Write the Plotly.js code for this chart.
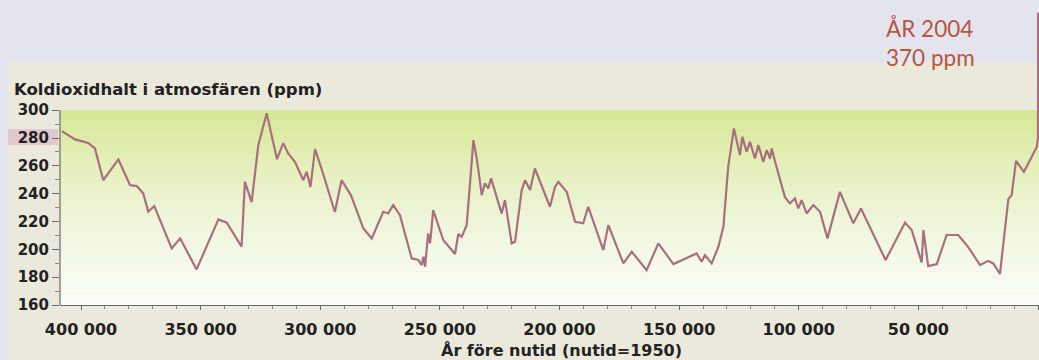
<!DOCTYPE html>
<html><head><meta charset="utf-8">
<script src="https://cdn.plot.ly/plotly-3.0.1.min.js"></script>
<style>html,body{margin:0;padding:0;background:#e4e4ee;overflow:hidden}</style>
</head><body><div id="chart" style="width:1039px;height:360px"></div>
<script>
// Years before present (present = 1950) and CO2 concentration (ppm)
const years = [408000,402500,397000,394200,390700,384400,379500,376700,374000,371900,369400,362100,358600,351700,342600,339100,332900,331500,328700,325900,322400,318100,315500,313400,310600,307100,305700,304100,302200,299700,293900,291100,287200,282000,278500,273700,271600,269500,266700,261800,259000,257600,256900,256200,254900,254100,252800,248600,243700,242300,240900,238800,236000,234600,232500,231200,229800,228600,226300,224200,222800,220000,218600,215800,214400,212300,210300,204000,201900,200500,197000,193500,190100,188000,181700,179600,173300,169800,163600,158700,152400,142700,140600,139200,136400,133600,131500,129500,127100,124600,123600,121800,120400,118300,116900,114800,113400,112000,111300,109900,105800,103700,101600,100200,98800,96700,93900,91100,88000,82800,77200,74000,63700,55600,52800,48600,47900,45900,42300,38200,33300,29300,24200,20800,18700,15900,12400,11000,9200,5900,500,0,-54];
const co2 = [285,279,276.5,272.5,249.7,264.6,246.1,245.5,240.2,227,231.1,200.7,207.9,185.6,221.5,219.1,201.9,248.5,233.9,274.9,297.8,264.8,276.3,268.9,262.9,249.7,255.7,244.9,272.1,259.1,226.8,249.7,239,215.1,207.9,227,225.8,231.8,224.6,193.5,192.3,188.7,194.7,187.5,211.5,204.3,228.2,206.7,196.6,211,209,217.4,278.5,265.3,239,247.4,243.8,251,237.7,225.8,235.4,204.3,205.4,242.6,249.7,242.6,258.1,230.6,244.9,248.5,241.3,219.8,218.7,230.6,199.5,217.4,189.9,198.3,185.1,204.3,189.4,197.1,191.1,195.9,189.9,201.9,216.2,259.3,286.9,267.7,280.8,270.1,277.2,265.3,274.9,262.9,271.3,265.3,272.5,262.9,237.7,233,236.6,229.4,235.4,225.8,231.8,227,207.9,241.3,218.7,229.4,192.3,219.2,213.8,190.5,213.8,188,189.4,210.3,210.3,201.9,188.7,191.7,189.9,182.3,236.1,239,263.5,255.7,273.6,280,370];

const xTickVals = [400000,350000,300000,250000,200000,150000,100000,50000,0];
const xTickText = ['400 000','350 000','300 000','250 000','200 000','150 000','100 000','50 000','0'];
const yTickVals = [160,180,200,220,240,260,280,300];
const yMinorVals = [170,190,210,230,250,270,290];
const titleText = 'Koldioxidhalt i atmosfären (ppm)';
const xTitleText = 'År före nutid (nutid=1950)';
const noteLines = ['ÅR 2004','370 ppm'];

// background gradient bands for the plot panel
const stops = [[160,[251,252,246]],[190,[245,249,234]],[230,[236,244,212]],[270,[226,238,176]],[300,[213,231,148]]];
function colAt(v){
  for(let i=0;i<stops.length-1;i++){
    const a=stops[i], b=stops[i+1];
    if(v>=a[0] && v<=b[0]){
      const t=(v-a[0])/(b[0]-a[0]);
      const c=a[1].map((ch,k)=>Math.round(ch+(b[1][k]-ch)*t));
      return 'rgb('+c.join(',')+')';
    }
  }
  return 'rgb(250,251,244)';
}
const shapes = [];
// beige image background
shapes.push({type:'rect',xref:'paper',yref:'paper',x0:-0.0531,x1:1.01,y0:-0.2,y1:0.8237,fillcolor:'#ebe9dc',line:{width:0},layer:'below'});
const step = 4;
for(let v=160; v<300; v+=step){
  shapes.push({type:'rect',xref:'paper',yref:'y',x0:0,x1:1,y0:v,y1:v+step,fillcolor:colAt(v+step/2),line:{width:0},layer:'below'});
}
// pink highlight behind 280
shapes.push({type:'rect',xref:'paper',yref:'y',x0:-0.053,x1:-0.002,y0:275,y1:286.5,fillcolor:'rgba(212,160,190,0.45)',line:{width:0},layer:'below'});
// y axis line (only over the 160-300 panel)
shapes.push({type:'line',xref:'paper',yref:'y',x0:0,x1:0,y0:160,y1:300,line:{color:'#6a6a6a',width:1.2}});

const trace = {x:years,y:co2,type:'scatter',mode:'lines',line:{color:'#a8707e',width:2.2},hoverinfo:'skip'};

const bold = {family:'DejaVu Sans',weight:'bold',color:'#222'};
const layout = {
  width:1039,height:360,
  margin:{l:60,r:0,t:10,b:55,pad:0},
  paper_bgcolor:'#e4e4ee',plot_bgcolor:'rgba(0,0,0,0)',
  showlegend:false,
  xaxis:{range:[408800,-420],autorange:false,tickmode:'array',tickvals:xTickVals,ticktext:xTickText,
    showgrid:false,zeroline:false,showline:true,linecolor:'#6a6a6a',linewidth:1.2,
    ticks:'outside',ticklen:4,tickcolor:'#6a6a6a',ticklabelstandoff:6,
    minor:{dtick:10000,tick0:0,ticks:'outside',ticklen:3,tickcolor:'#888',showgrid:false},
    tickfont:Object.assign({size:16},bold)},
  yaxis:{range:[160,372],autorange:false,tickmode:'array',tickvals:yTickVals,
    showgrid:false,zeroline:false,showline:false,
    ticks:'outside',ticklen:7,tickcolor:'#6a6a6a',
    minor:{tickmode:'array',tickvals:yMinorVals,ticks:'outside',ticklen:4,tickcolor:'#888',showgrid:false},
    tickfont:Object.assign({size:15},bold)},
  shapes:shapes,
  annotations:[
    {xref:'paper',yref:'paper',x:-0.049,y:1-(90-10)/295,xanchor:'left',yanchor:'middle',showarrow:false,
      text:titleText,font:Object.assign({size:16.5},bold)},
    {xref:'paper',yref:'paper',x:(561-60)/979,y:-(350-305)/295,xanchor:'center',yanchor:'middle',showarrow:false,
      text:xTitleText,font:Object.assign({size:16},bold)},
    {xref:'paper',yref:'paper',x:(884-60)/979,y:1-(43-10)/295,xanchor:'left',yanchor:'middle',align:'left',showarrow:false,
      text:noteLines.join('<br>'),font:{family:'Lato',weight:400,size:22.5,color:'#b5583f'}}
  ]
};
Plotly.newPlot('chart',[trace],layout,{staticPlot:true,displayModeBar:false});
</script></body></html>
